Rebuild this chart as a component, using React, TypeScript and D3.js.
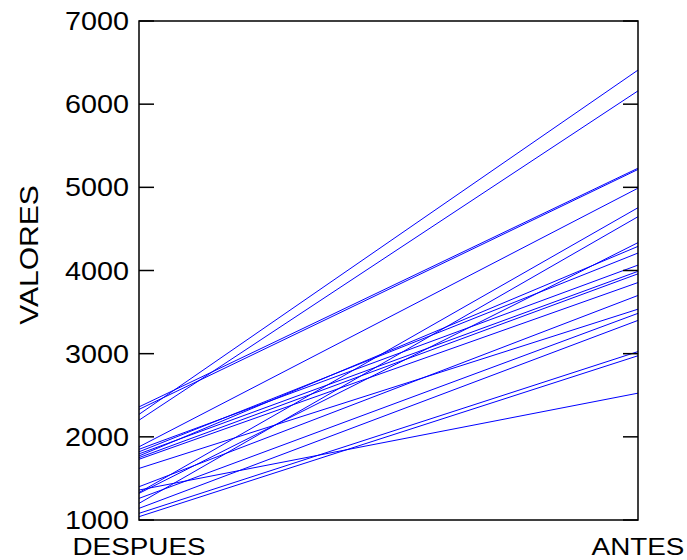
import React from "react";
import * as d3 from "d3";

// Paired measurements: value after (DESPUES) and before (ANTES) for each subject
const despues: number[] = [
  2270, 2200, 2360, 2330,
  1880, 1850, 1820, 1795, 1770, 1750, 1730, 1620,
  1400, 1360, 1330, 1320, 1260, 1200, 1140, 1080, 1040,
];
const antes: number[] = [
  6410, 6160, 5230, 5215,
  4990, 4065, 4210, 3990, 4290, 3960, 3855, 3535,
  3700, 2525, 4755, 4335, 3485, 4647, 3400, 3025, 2975,
];
const categories: string[] = ["DESPUES", "ANTES"];
const yTicks: number[] = [1000, 2000, 3000, 4000, 5000, 6000, 7000];

const W = 687;
const H = 560;
const left = 139;
const right = 638;
const top = 21;
const bottom = 520;
const font = "'Liberation Sans', Arial, sans-serif";

export default function App() {
  const x = d3.scalePoint<string>().domain(categories).range([left, right]);
  const y = d3.scaleLinear().domain([1000, 7000]).range([bottom, top]);
  const line = d3
    .line<[string, number]>()
    .x((d) => x(d[0]) as number)
    .y((d) => y(d[1]));

  const pairs = despues.map((v, i) => [
    [categories[0], v],
    [categories[1], antes[i]],
  ] as [string, number][]);

  const tickLen = 15;

  return (
    <svg
      width={W}
      height={H}
      style={{ position: "absolute", left: 0, top: 0, background: "#fff" }}
    >
      <rect x={0} y={0} width={W} height={H} fill="#fff" />
      <g>
        {pairs.map((p, i) => (
          <path key={i} d={line(p) || ""} fill="none" stroke="#0000ff" strokeWidth={1} />
        ))}
      </g>
      <rect
        x={left}
        y={top}
        width={right - left}
        height={bottom - top}
        fill="none"
        stroke="#000"
        strokeWidth={1.5}
      />
      {yTicks.map((t) => (
        <g key={t}>
          <line x1={left} x2={left + tickLen} y1={y(t)} y2={y(t)} stroke="#000" strokeWidth={1.5} />
          <line x1={right - tickLen} x2={right} y1={y(t)} y2={y(t)} stroke="#000" strokeWidth={1.5} />
          <text
            transform={`translate(${left - 10},${y(t) + 9}) scale(1.15,1)`}
            textAnchor="end"
            fontFamily={font}
            fontSize={25}
            fill="#000"
          >
            {t}
          </text>
        </g>
      ))}
      {categories.map((c) => (
        <text
          key={c}
          transform={`translate(${x(c)},${bottom + 35}) scale(1.16,1)`}
          textAnchor="middle"
          fontFamily={font}
          fontSize={24}
          fill="#000"
        >
          {c}
        </text>
      ))}
      <text
        transform={`translate(38,255) rotate(-90) scale(1.2,1)`}
        textAnchor="middle"
        fontFamily={font}
        fontSize={25}
        fill="#000"
      >
        VALORES
      </text>
    </svg>
  );
}
